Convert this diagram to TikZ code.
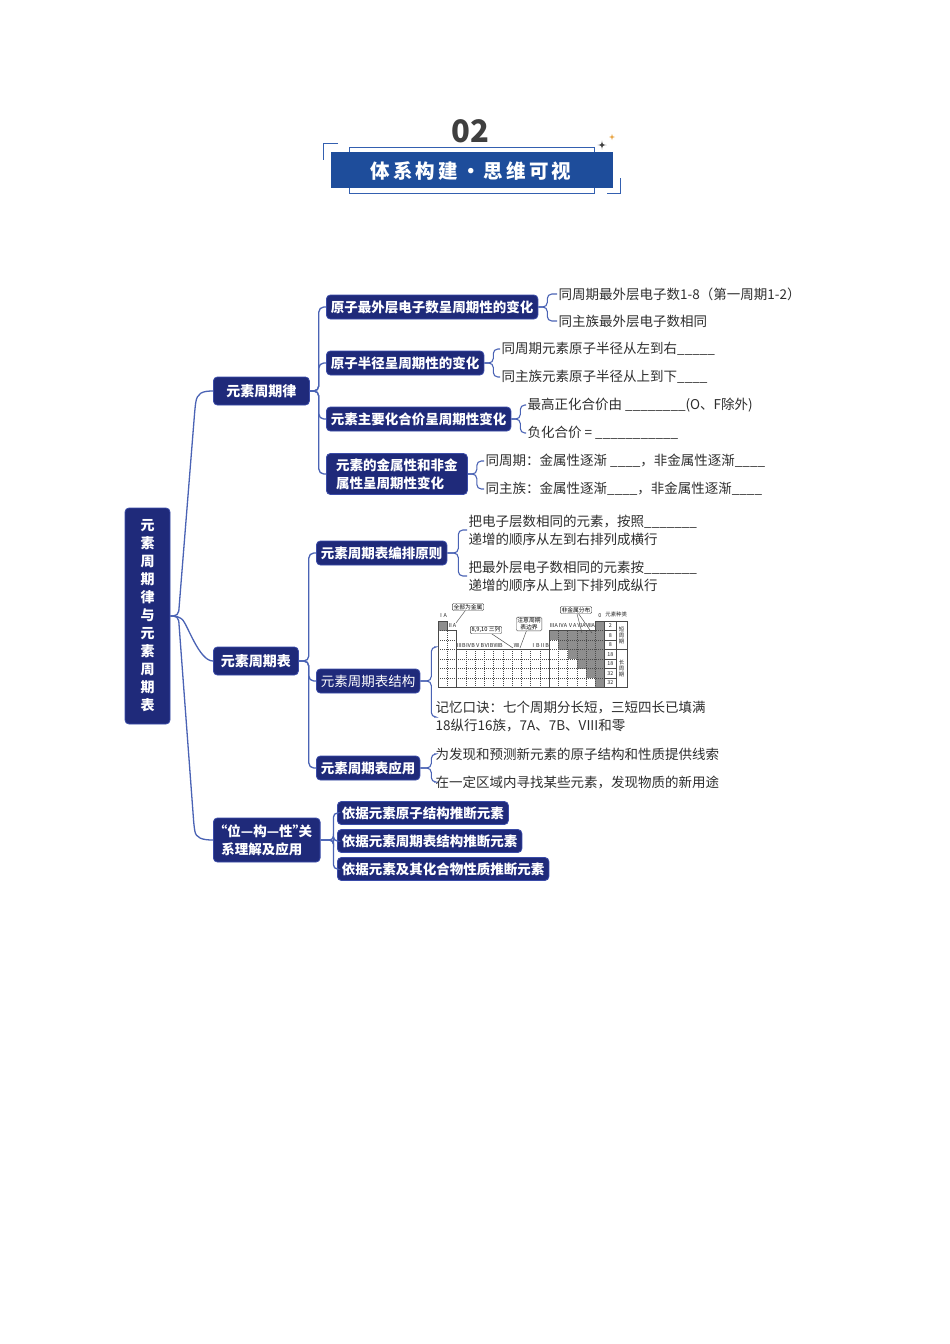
\documentclass[tikz,border=0pt]{standalone}
\usepackage{fontspec}
\setmainfont{Noto Sans CJK SC}
\definecolor{navy}{HTML}{1F2A7A}
\definecolor{navyb}{HTML}{3A4BA8}
\definecolor{linec}{HTML}{4A63B5}
\definecolor{leafc}{HTML}{2E2E2E}
\definecolor{banner}{HTML}{1E4D9B}
\definecolor{hdrline}{HTML}{3460B0}
\definecolor{numc}{HTML}{3F3F3F}
\definecolor{starorange}{HTML}{E8A03A}
\definecolor{tgray}{HTML}{8E8E8E}
\definecolor{tline}{HTML}{4A4A4A}
\begin{document}
\begin{tikzpicture}[x=1pt,y=-1pt,
 lvl1/.style={fill=navy,draw=navyb,line width=0.8pt,rounded corners=4pt,text=white,font=\bfseries\fontsize{14}{18}\selectfont,inner xsep=7pt,inner ysep=0pt,minimum height=28pt,anchor=west},
 lvl2/.style={fill=navy,draw=navyb,line width=0.8pt,rounded corners=4pt,text=white,font=\bfseries\fontsize{13.5}{18}\selectfont,inner xsep=4.5pt,inner ysep=0pt,minimum height=24pt,anchor=west},
 leaf/.style={text=leafc,font=\fontsize{13.5}{18}\selectfont,inner xsep=1.5pt,inner ysep=1pt,anchor=west,align=left},
 conn/.style={draw=linec,line width=1.3pt,rounded corners=5pt},
 brace/.style={draw=linec,line width=1.1pt,rounded corners=4.5pt},
 hdr/.style={draw=hdrline,line width=0.8pt},
 tl/.style={draw=tline,line width=0.45pt},
 tt/.style={font=\fontsize{5.4}{6}\selectfont,text=black!85,inner sep=0.2pt},
 callout/.style={draw=tline,line width=0.4pt,rounded corners=1.2pt,font=\fontsize{5.8}{6.6}\selectfont,inner xsep=1.2pt,inner ysep=0.8pt,align=center,fill=white},
]
\useasboundingbox (0,0) rectangle (950,1344);
\fill[white] (0,0) rectangle (950,1344);

% ---------- header ----------
\node[font=\bfseries\fontsize{31}{31}\selectfont,text=numc] (num) at (470,131) {02};
\draw[hdr] (349,147) rectangle (594,193);
\fill[banner] (331,152) rectangle (613,188);
\draw[hdr] (338,143) -- (323,143) -- (323,160);
\draw[hdr] (607,193) -- (620,193) -- (620,178);
\node[font=\bfseries\fontsize{19.5}{20}\selectfont,text=white] (title) at (471,171) {\addfontfeature{LetterSpace=16}体系构建・思维可视};
\fill[numc] (602,140.5) .. controls (602.5,144.5) .. (606.5,145) .. controls (602.5,145.5) .. (602,149.5) .. controls (601.5,145.5) .. (597.5,145) .. controls (601.5,144.5) .. (602,140.5) -- cycle;
\fill[starorange] (612,134) .. controls (612.4,136.6) .. (615,137) .. controls (612.4,137.4) .. (612,140) .. controls (611.6,137.4) .. (609,137) .. controls (611.6,136.6) .. (612,134) -- cycle;

% ---------- main node ----------
\node[fill=navy,draw=navyb,line width=0.8pt,rounded corners=4pt,text=white,font=\bfseries\fontsize{14}{18}\selectfont,minimum width=45pt,minimum height=216pt,align=center,inner sep=0pt] (main) at (147.5,616) {元\\素\\周\\期\\律\\与\\元\\素\\周\\期\\表};

% ---------- level 1 ----------
\node[lvl1,minimum width=96pt] (law) at (213,391) {元素周期律};
\node[lvl1,minimum width=85pt] (tab) at (213,661) {元素周期表};
\node[lvl1,align=left,minimum height=44pt,inner xsep=8pt,font=\bfseries\fontsize{13.5}{18}\selectfont] (wgx) at (213,840) {\makebox[6pt][r]{“}位—构—性\makebox[6pt][l]{”}关\\系理解及应用};

\draw[conn] (main.east) -- ++(8,0) -- (195,408) .. controls (197,393) and (202,391) .. (law.west);
\draw[conn] (main.east) -- ++(8,0) .. controls +(9,8) and +(-14,0) .. (tab.west);
\draw[conn] (main.east) -- ++(8,0) -- (194,826) .. controls (196,838) and (202,840) .. (wgx.west);

% ---------- level 2 ----------
\node[lvl2] (c11) at (326,307) {原子最外层电子数呈周期性的变化};
\node[lvl2] (c12) at (326,363) {原子半径呈周期性的变化};
\node[lvl2] (c13) at (326,419) {元素主要化合价呈周期性变化};
\node[lvl2,align=left,minimum height=41pt,minimum width=141pt] (c14) at (326,474) {元素的金属性和非金\\属性呈周期性变化};
\node[lvl2] (c21) at (316,553) {元素周期表编排原则};
\node[lvl2,font=\fontsize{13.5}{18}\selectfont] (c22) at (316,681) {元素周期表结构};
\node[lvl2] (c23) at (316,768) {元素周期表应用};
\node[lvl2,minimum height=23pt] (c31) at (337,813) {依据元素原子结构推断元素};
\node[lvl2,minimum height=23pt] (c32) at (337,841) {依据元素周期表结构推断元素};
\node[lvl2,minimum height=23pt] (c33) at (337,869) {依据元素及其化合物性质推断元素};

\foreach \n in {c11,c12,c13,c14} \draw[conn] (law.east) -- ++(9,0) |- (\n.west);
\foreach \n in {c21,c22,c23} \draw[conn] (tab.east) -- ++(10,0) |- (\n.west);
\foreach \n in {c31,c32,c33} \draw[conn,rounded corners=4pt] (wgx.east) -- ++(13,0) |- (\n.west);

% ---------- leaves ----------
\node[leaf] (l11) at (557,294) {同周期最外层电子数1-8（第一周期1-2）};
\node[leaf] (l12) at (557,321) {同主族最外层电子数相同};
\node[leaf] (l21) at (500,349) {同周期元素原子半径从左到右\_\_\_\_\_};
\node[leaf] (l22) at (500,377) {同主族元素原子半径从上到下\_\_\_\_};
\node[leaf] (l31) at (526,405) {最高正化合价由 \_\_\_\_\_\_\_\_(O、F除外)};
\node[leaf] (l32) at (526,433) {负化合价 =  \_\_\_\_\_\_\_\_\_\_\_};
\node[leaf] (l41) at (484,461) {同周期：金属性逐渐 \_\_\_\_，非金属性逐渐\_\_\_\_};
\node[leaf] (l42) at (484,489) {同主族：金属性逐渐\_\_\_\_，非金属性逐渐\_\_\_\_};
\node[leaf] (m11) at (467,530) {把电子层数相同的元素，按照\_\_\_\_\_\_\_\\递增的顺序从左到右排列成横行};
\node[leaf] (m12) at (467,576) {把最外层电子数相同的元素按\_\_\_\_\_\_\_\\递增的顺序从上到下排列成纵行};
\coordinate (tbw) at (434,647);
\node[leaf] (m22) at (434,717) {记忆口诀：七个周期分长短，三短四长已填满\\18纵行16族，7A、7B、VIII和零};
\node[leaf] (m31) at (434,754) {为发现和预测新元素的原子结构和性质提供线索};
\node[leaf] (m32) at (434,782) {在一定区域内寻找某些元素，发现物质的新用途};

\foreach \n in {l11,l12} \draw[brace] (c11.east) -- ++(9,0) |- (\n.west);
\foreach \n in {l21,l22} \draw[brace] (c12.east) -- ++(9,0) |- (\n.west);
\foreach \n in {l31,l32} \draw[brace] (c13.east) -- ++(9,0) |- (\n.west);
\foreach \n in {l41,l42} \draw[brace] (c14.east) -- ++(9,0) |- (\n.west);
\foreach \n in {m11,m12} \draw[brace] (c21.east) -- ++(11,0) |- (\n.west);
\draw[brace] (c22.east) -- ++(11,0) |- (tbw);
\draw[brace] (c22.east) -- ++(11,0) |- (m22.west);
\foreach \n in {m31,m32} \draw[brace] (c23.east) -- ++(11,0) |- (\n.west);

% ---------- periodic table sketch ----------
\def\tx{438}\def\ty{621}\def\cw{9.25}\def\rh{9.5}
\foreach \c/\r in {0/0,17/0,12/1,13/1,14/1,15/1,16/1,17/1,13/2,14/2,15/2,16/2,17/2,14/3,15/3,16/3,17/3,15/4,16/4,17/4,16/5,17/5,17/6}
  \fill[tgray] ({\tx+\c*\cw},{\ty+\r*\rh}) rectangle ++(\cw,\rh);
\begin{scope}
\clip (438,621) -- (447.25,621) -- (447.25,630.5) -- (456.5,630.5) -- (456.5,649.5) -- (549,649.5) -- (549,630.5) -- (595.25,630.5) -- (595.25,621) -- (604.5,621) -- (604.5,687.5) -- (438,687.5) -- cycle;
\foreach \c in {1,...,17} \draw[tl,dash pattern=on 1pt off 1pt] ({\tx+\c*\cw},\ty) -- ++(0,66.5);
\foreach \r in {1,...,6} \draw[tl,dash pattern=on 1pt off 1pt] (\tx,{\ty+\r*\rh}) -- ++(166.5,0);
\end{scope}
\draw[tl] (438,621) -- (447.25,621) -- (447.25,630.5) -- (456.5,630.5) -- (456.5,649.5) -- (549,649.5) -- (549,630.5) -- (595.25,630.5) -- (595.25,621) -- (604.5,621) -- (604.5,687.5) -- (438,687.5) -- cycle;
\draw[tl] (456.5,649.5) -- (456.5,687.5);
\draw[tl] (549,649.5) -- (549,687.5);
\draw[tl] (604.5,621) rectangle (616,687.5);
\foreach \r in {1,...,6} \draw[tl] (604.5,{\ty+\r*\rh}) -- (616,{\ty+\r*\rh});
\foreach \n [count=\i from 0] in {2,8,8,18,18,32,32} \node[tt] (cnt\i) at (610.25,{\ty+(\i+0.5)*\rh}) {\n};
\draw[tl] (616,621) rectangle (627,687.5);
\draw[tl] (616,649.5) -- (627,649.5);
\node[tt,align=center] (shortp) at (621.5,635.25) {短\\周\\期};
\node[tt,align=center] (longp) at (621.5,668.5) {长\\周\\期};
\node[tt] (g1) at (442.6,616) {ⅠA};
\node[tt] (g2) at (451.9,625.5) {ⅡA};
\foreach \t [count=\i from 12] in {ⅢA,ⅣA,ⅤA,ⅥA,ⅦA} \node[tt] (ga\i) at ({\tx+(\i+0.5)*\cw},625.5) {\t};
\node[tt] (g0) at (599.9,616) {0};
\node[tt,anchor=west] (kinds) at (605,614.5) {元素种类};
\foreach \t [count=\i from 2] in {ⅢB,ⅣB,ⅤB,ⅥB,ⅦB} \node[tt] (gb\i) at ({\tx+(\i+0.5)*\cw},646) {\t};
\node[tt] (g8) at ({\tx+8.5*\cw},646) {Ⅷ};
\node[tt] (g11) at ({\tx+10.5*\cw},646) {ⅠB};
\node[tt] (g12) at ({\tx+11.5*\cw},646) {ⅡB};
\coordinate (p1) at (456,623);
\coordinate (p2) at (513,648);
\coordinate (p3) at (520,648);
\coordinate (p4a) at (582,633);
\coordinate (p4b) at (592,633);
\draw[tl] (468,607) -- (p1);
\draw[tl] (486,630) -- (p2);
\draw[tl] (529,624) -- (p3);
\draw[tl] (576,610) -- (p4a);
\draw[tl] (576,610) -- (p4b);
\node[callout] (q1) at (468,607) {全部为金属};
\node[callout] (q2) at (486,630) {8,9,10 三列};
\node[callout] (q3) at (529,624) {注意周期\\表边界};
\node[callout] (q4) at (576,610) {非金属分布};
\end{tikzpicture}
\end{document}
